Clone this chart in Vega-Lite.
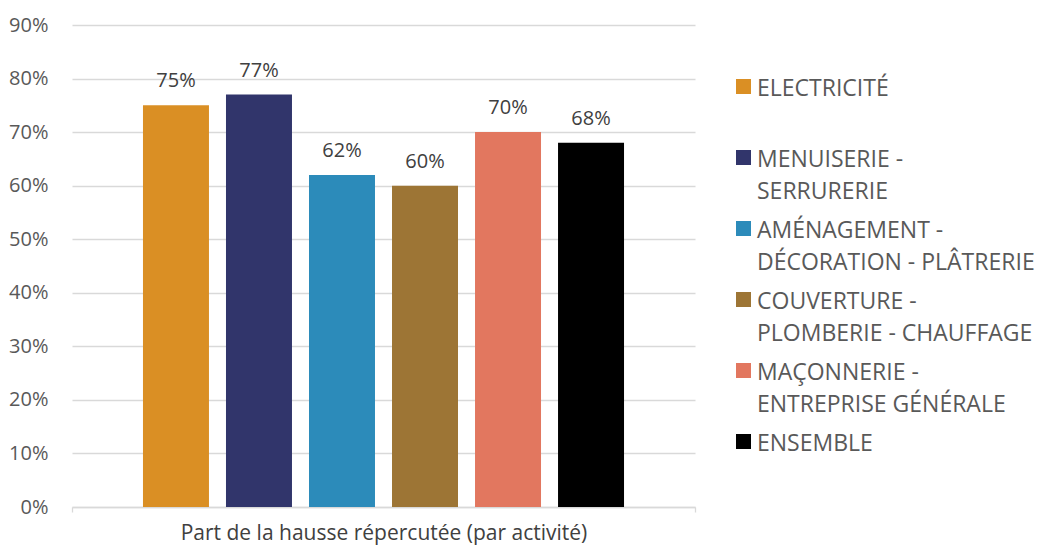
{
  "$schema": "https://vega.github.io/schema/vega-lite/v6.json",
  "width": 623,
  "height": 482,
  "autosize": "none",
  "padding": {"left": 72, "top": 25, "right": 345, "bottom": 39},
  "background": "white",
  "config": {
    "view": {"stroke": null},
    "font": "Open Sans",
    "style": {"guide-label": {"lineHeight": 32}}
  },
  "data": {
    "values": [
      {"groupe": "Part de la hausse répercutée (par activité)", "activite": "ELECTRICITÉ", "part": 0.75},
      {"groupe": "Part de la hausse répercutée (par activité)", "activite": "MENUISERIE - SERRURERIE", "part": 0.77},
      {"groupe": "Part de la hausse répercutée (par activité)", "activite": "AMÉNAGEMENT - DÉCORATION - PLÂTRERIE", "part": 0.62},
      {"groupe": "Part de la hausse répercutée (par activité)", "activite": "COUVERTURE - PLOMBERIE - CHAUFFAGE", "part": 0.60},
      {"groupe": "Part de la hausse répercutée (par activité)", "activite": "MAÇONNERIE - ENTREPRISE GÉNÉRALE", "part": 0.70},
      {"groupe": "Part de la hausse répercutée (par activité)", "activite": "ENSEMBLE", "part": 0.68}
    ]
  },
  "encoding": {
    "x": {
      "field": "groupe",
      "type": "nominal",
      "scale": {"paddingInner": 0, "paddingOuter": 0},
      "axis": {
        "title": "Part de la hausse répercutée (par activité)",
        "labels": false,
        "ticks": true,
        "tickBand": "extent",
        "tickSize": 5,
        "tickColor": "#d9d9d9",
        "tickWidth": 1.3,
        "domainColor": "#d9d9d9",
        "domainWidth": 1.3,
        "titleFont": "Open Sans",
        "titleFontSize": 21,
        "titleFontWeight": "normal",
        "titleColor": "#404040",
        "titlePadding": 10
      }
    },
    "xOffset": {
      "field": "activite",
      "type": "nominal",
      "sort": null,
      "scale": {"paddingInner": 0.205, "paddingOuter": 0.855}
    },
    "y": {
      "field": "part",
      "type": "quantitative",
      "scale": {"domain": [0, 0.9], "nice": false},
      "axis": {
        "title": null,
        "format": "%",
        "values": [0, 0.1, 0.2, 0.3, 0.4, 0.5, 0.6, 0.7, 0.8, 0.9],
        "domain": false,
        "ticks": false,
        "labelPadding": 24,
        "labelFont": "Open Sans",
        "labelFontSize": 20,
        "labelColor": "#595959",
        "gridColor": "#d9d9d9",
        "gridWidth": 1.3
      }
    }
  },
  "layer": [
    {
      "mark": {"type": "bar"},
      "encoding": {
        "color": {
          "field": "activite",
          "type": "nominal",
          "sort": null,
          "scale": {
            "domain": ["ELECTRICITÉ", "MENUISERIE - SERRURERIE", "AMÉNAGEMENT - DÉCORATION - PLÂTRERIE", "COUVERTURE - PLOMBERIE - CHAUFFAGE", "MAÇONNERIE - ENTREPRISE GÉNÉRALE", "ENSEMBLE"],
            "range": ["#DA8F24", "#31356B", "#2C8BBA", "#9D7535", "#E2775F", "#000000"]
          },
          "legend": {
            "title": null,
            "orient": "none",
            "legendX": 660,
            "legendY": 41,
            "symbolType": "M-1,0.2L1,0.2L1,2.2L-1,2.2Z",
            "symbolSize": 225,
            "symbolStrokeWidth": 0,
            "labelFont": "Open Sans",
            "labelFontSize": 23,
            "labelColor": "#595959",
            "labelLimit": 400,
            "labelOffset": 2,
            "labelBaseline": "top",
            "rowPadding": 4,
            "labelExpr": "indexof(datum.label, ' - ') < 0 ? [datum.label, ''] : split(replace(datum.label, ' - ', ' -|'), '|')"
          }
        }
      }
    },
    {
      "mark": {"type": "text", "baseline": "alphabetic", "dy": -18, "font": "Open Sans", "fontSize": 20, "color": "#404040"},
      "encoding": {
        "text": {"field": "part", "type": "quantitative", "format": ".0%"}
      }
    }
  ]
}
